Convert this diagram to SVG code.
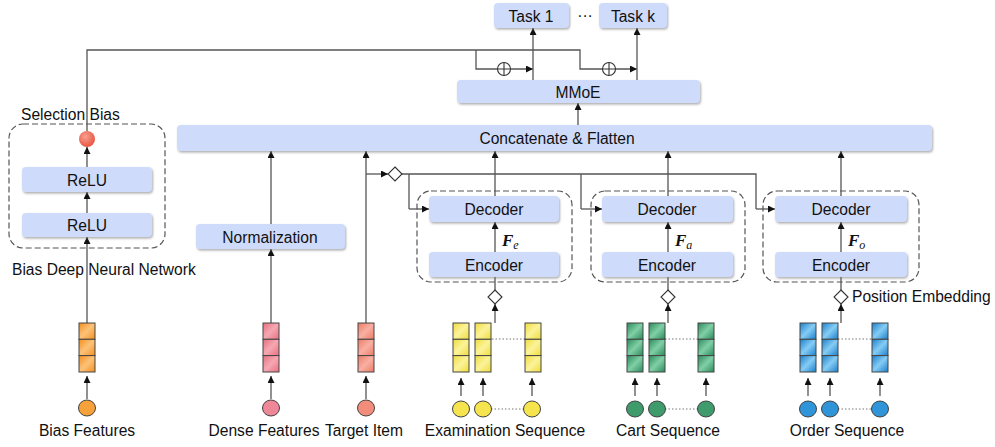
<svg xmlns="http://www.w3.org/2000/svg" width="995" height="447" viewBox="0 0 995 447">
<style>
text{font-family:"Liberation Sans",Arial,sans-serif;font-size:15.6px;fill:#111}
.c{text-anchor:middle;dominant-baseline:central}
.box{fill:#cfdbfa;filter:url(#sh)}
.dash{fill:none;stroke:#555;stroke-width:1.2;stroke-dasharray:6 3}
.ln{fill:none;stroke:#555;stroke-width:1.3}
.ar{fill:none;stroke:#555;stroke-width:1.3;marker-end:url(#ah)}
.dot{fill:none;stroke:#777;stroke-width:1;stroke-dasharray:1.5 2}
.dia{fill:#fff;stroke:#333;stroke-width:1.1}
.cell{stroke:#444;stroke-width:1}
.cir{stroke:#444;stroke-width:1}
.f{font-family:"Liberation Serif","Times New Roman",serif;font-style:italic;font-size:17px}
</style>
<defs>
<filter id="sh" x="-5%" y="-20%" width="110%" height="150%">
<feDropShadow dx="1" dy="1.5" stdDeviation="1.2" flood-color="#777" flood-opacity="0.6"/>
</filter>
<marker id="ah" markerUnits="userSpaceOnUse" markerWidth="8" markerHeight="8" refX="7" refY="3.5" orient="auto">
<path d="M0,0 L7,3.5 L0,7 z" fill="#111"/>
</marker>
<linearGradient id="gO" x1="0" y1="0" x2="1" y2="1"><stop offset="0" stop-color="#f58f1c"/><stop offset="0.5" stop-color="#fcc27a"/><stop offset="1" stop-color="#f58f1c"/></linearGradient>
<linearGradient id="gP" x1="0" y1="0" x2="1" y2="1"><stop offset="0" stop-color="#e8707f"/><stop offset="0.5" stop-color="#f5a8b3"/><stop offset="1" stop-color="#e8707f"/></linearGradient>
<linearGradient id="gS" x1="0" y1="0" x2="1" y2="1"><stop offset="0" stop-color="#ee7a66"/><stop offset="0.5" stop-color="#f8b0a2"/><stop offset="1" stop-color="#ee7a66"/></linearGradient>
<linearGradient id="gY" x1="0" y1="0" x2="1" y2="1"><stop offset="0" stop-color="#f0dc3c"/><stop offset="0.5" stop-color="#fbf39a"/><stop offset="1" stop-color="#f0dc3c"/></linearGradient>
<linearGradient id="gG" x1="0" y1="0" x2="1" y2="1"><stop offset="0" stop-color="#2b8a5a"/><stop offset="0.5" stop-color="#80cfa6"/><stop offset="1" stop-color="#2b8a5a"/></linearGradient>
<linearGradient id="gB" x1="0" y1="0" x2="1" y2="1"><stop offset="0" stop-color="#1a80cc"/><stop offset="0.5" stop-color="#86ccf4"/><stop offset="1" stop-color="#1a80cc"/></linearGradient>
<radialGradient id="gR" cx="0.4" cy="0.35" r="0.7"><stop offset="0" stop-color="#f8a090"/><stop offset="1" stop-color="#e8503c"/></radialGradient>
<g id="vec">
<rect x="0" y="0" width="16" height="16.3" class="cell"/>
<rect x="0" y="16.3" width="16" height="16.3" class="cell"/>
<rect x="0" y="32.6" width="16" height="16.4" class="cell"/>
</g>
</defs>

<!-- connectors -->
<g id="connectors">
<path class="ln" d="M87,131 V50 H580 V69 H631"/>
<path class="ar" d="M631,69 H637"/>
<path class="ln" d="M476,50 V69 H527"/>
<path class="ar" d="M527,69 H533"/>
<path class="ar" d="M533,80 V28"/>
<path class="ar" d="M637,80 V28"/>
<path class="ar" d="M578,125 V103"/>
<path class="ar" d="M87,213 V192"/>
<path class="ar" d="M87,167 V147"/>
<path class="ar" d="M87,323 V237"/>
<path class="ar" d="M87,399 V376"/>
<path class="ar" d="M271,399 V376"/>
<path class="ar" d="M271,323 V249"/>
<path class="ar" d="M271,224 V151"/>
<path class="ar" d="M366,399 V376"/>
<path class="ar" d="M366,323 V151"/>
<path class="ar" d="M366,174 H388"/>
<path class="ln" d="M402,174 H756 V209"/>
<path class="ar" d="M756,209 H775"/>
<path class="ln" d="M409,174 V209"/>
<path class="ar" d="M409,209 H429"/>
<path class="ln" d="M581,174 V209"/>
<path class="ar" d="M581,209 H602"/>
<path class="ar" d="M495,196 V151"/>
<path class="ar" d="M668,196 V151"/>
<path class="ar" d="M841,196 V151"/>
<path class="ar" d="M495,252 V222"/>
<path class="ar" d="M668,252 V222"/>
<path class="ar" d="M841,252 V222"/>
<path class="ln" d="M495,277 V290"/>
<path class="ln" d="M668,277 V290"/>
<path class="ln" d="M841,277 V290"/>
<path class="ar" d="M495,323 V304"/>
<path class="ar" d="M668,323 V304"/>
<path class="ar" d="M841,323 V304"/>
<path class="ar" d="M461,396 V378"/><path class="ar" d="M483,396 V378"/><path class="ar" d="M532,396 V378"/>
<path class="ar" d="M635,396 V378"/><path class="ar" d="M657,396 V378"/><path class="ar" d="M706,396 V378"/>
<path class="ar" d="M808,396 V378"/><path class="ar" d="M830,396 V378"/><path class="ar" d="M880,396 V378"/>
<g fill="#fff" stroke="#333" stroke-width="1.1">
<circle cx="504" cy="69" r="6.5"/><path d="M497.5,69 H510.5 M504,62.5 V75.5"/>
<circle cx="609" cy="69" r="6.5"/><path d="M602.5,69 H615.5 M609,62.5 V75.5"/>
</g>
<path class="dia" d="M395,167 L402,174 L395,181 L388,174 z"/>
<path class="dia" d="M495,290 L502,297 L495,304 L488,297 z"/>
<path class="dia" d="M668,290 L675,297 L668,304 L661,297 z"/>
<path class="dia" d="M841,290 L848,297 L841,304 L834,297 z"/>
<path class="dot" d="M492,339 H525 M665,339 H698 M838,339 H872"/>
<path class="dot" d="M491,409 H524 M665,409 H698 M838,409 H872"/>
</g>

<!-- tasks -->
<g id="task1"><rect class="box" x="494" y="3" width="75" height="25" rx="4"/><text class="c" x="531" y="16">Task 1</text></g>
<text class="c" x="585" y="15">···</text>
<g id="taskk"><rect class="box" x="599" y="3" width="68" height="25" rx="4"/><text class="c" x="633" y="16">Task k</text></g>
<g id="mmoe"><rect class="box" x="457" y="80" width="243" height="23" rx="4"/><text class="c" x="578" y="92">MMoE</text></g>
<g id="concat"><rect class="box" x="177" y="125" width="755" height="26" rx="4"/><text class="c" x="557" y="138">Concatenate &amp; Flatten</text></g>

<!-- bias network -->
<g id="biasdnn">
<rect class="dash" x="9" y="124" width="156" height="124" rx="14"/>
<text x="21" y="120">Selection Bias</text>
<circle cx="87" cy="139" r="8" fill="url(#gR)"/>
<rect class="box" x="22" y="167" width="130" height="25" rx="4"/><text class="c" x="87" y="180">ReLU</text>
<rect class="box" x="22" y="213" width="130" height="24" rx="4"/><text class="c" x="87" y="225">ReLU</text>
<text x="12" y="275">Bias Deep Neural Network</text>
</g>
<g id="normalization"><rect class="box" x="196" y="224" width="149" height="25" rx="4"/><text class="c" x="270" y="237">Normalization</text></g>

<!-- encoders/decoders -->
<g id="exam-block">
<rect class="dash" x="417" y="191" width="155" height="91" rx="14"/>
<rect class="box" x="429" y="196" width="130" height="26" rx="4"/><text class="c" x="494" y="209">Decoder</text>
<rect class="box" x="429" y="252" width="130" height="25" rx="4"/><text class="c" x="494" y="265">Encoder</text>
<text class="f" x="502" y="246" font-weight="bold">F<tspan font-size="12" font-weight="normal" dy="3">e</tspan></text>
</g>
<g id="cart-block">
<rect class="dash" x="591" y="191" width="154" height="91" rx="14"/>
<rect class="box" x="602" y="196" width="131" height="26" rx="4"/><text class="c" x="667" y="209">Decoder</text>
<rect class="box" x="602" y="252" width="131" height="25" rx="4"/><text class="c" x="667" y="265">Encoder</text>
<text class="f" x="675" y="246" font-weight="bold">F<tspan font-size="12" font-weight="normal" dy="3">a</tspan></text>
</g>
<g id="order-block">
<rect class="dash" x="763" y="191" width="156" height="91" rx="14"/>
<rect class="box" x="775" y="196" width="132" height="26" rx="4"/><text class="c" x="841" y="209">Decoder</text>
<rect class="box" x="775" y="252" width="132" height="25" rx="4"/><text class="c" x="841" y="265">Encoder</text>
<text class="f" x="848" y="246" font-weight="bold">F<tspan font-size="12" font-weight="normal" dy="3">o</tspan></text>
</g>
<text x="852" y="302">Position Embedding</text>

<!-- inputs -->
<g id="bias-features">
<use href="#vec" x="79" y="323" fill="url(#gO)"/>
<ellipse class="cir" cx="87" cy="408" rx="8.5" ry="8" fill="#f7a13a"/>
<text x="87" y="436" text-anchor="middle">Bias Features</text>
</g>
<g id="dense-features">
<use href="#vec" x="263" y="323" fill="url(#gP)"/>
<ellipse class="cir" cx="271" cy="408" rx="8.5" ry="8" fill="#ee8797"/>
<text x="264" y="436" text-anchor="middle">Dense Features</text>
</g>
<g id="target-item">
<use href="#vec" x="358" y="323" fill="url(#gS)"/>
<ellipse class="cir" cx="366" cy="408" rx="8.5" ry="8" fill="#f28d7c"/>
<text x="364" y="436" text-anchor="middle">Target Item</text>
</g>
<g id="exam-seq">
<use href="#vec" x="453" y="323" fill="url(#gY)"/><use href="#vec" x="475" y="323" fill="url(#gY)"/><use href="#vec" x="525" y="323" fill="url(#gY)"/>
<ellipse class="cir" cx="461" cy="409" rx="8.5" ry="8" fill="#f5e44e"/><ellipse class="cir" cx="483" cy="409" rx="8.5" ry="8" fill="#f5e44e"/><ellipse class="cir" cx="532" cy="409" rx="8.5" ry="8" fill="#f5e44e"/>
<text x="505" y="436" text-anchor="middle">Examination Sequence</text>
</g>
<g id="cart-seq">
<use href="#vec" x="627" y="323" fill="url(#gG)"/><use href="#vec" x="649" y="323" fill="url(#gG)"/><use href="#vec" x="698" y="323" fill="url(#gG)"/>
<ellipse class="cir" cx="635" cy="409" rx="8.5" ry="8" fill="#3f9a6c"/><ellipse class="cir" cx="657" cy="409" rx="8.5" ry="8" fill="#3f9a6c"/><ellipse class="cir" cx="706" cy="409" rx="8.5" ry="8" fill="#3f9a6c"/>
<text x="668" y="436" text-anchor="middle">Cart Sequence</text>
</g>
<g id="order-seq">
<use href="#vec" x="800" y="323" fill="url(#gB)"/><use href="#vec" x="822" y="323" fill="url(#gB)"/><use href="#vec" x="872" y="323" fill="url(#gB)"/>
<ellipse class="cir" cx="808" cy="409" rx="8.5" ry="8" fill="#2f95d8"/><ellipse class="cir" cx="830" cy="409" rx="8.5" ry="8" fill="#2f95d8"/><ellipse class="cir" cx="880" cy="409" rx="8.5" ry="8" fill="#2f95d8"/>
<text x="847" y="436" text-anchor="middle">Order Sequence</text>
</g>
</svg>
